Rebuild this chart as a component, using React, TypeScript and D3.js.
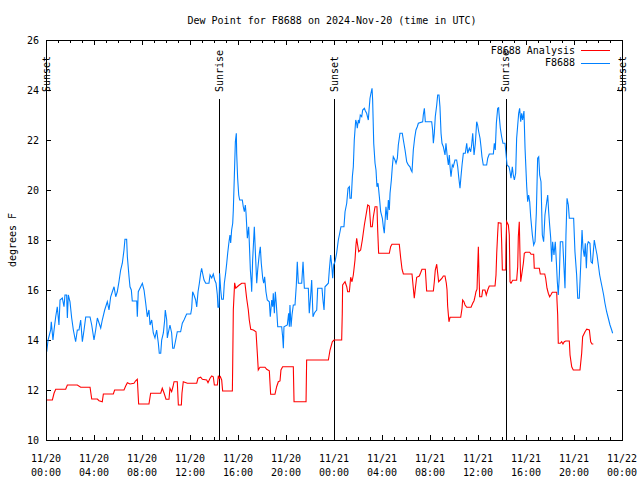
import React from 'react';
import * as d3 from 'd3';

const TITLE = 'Dew Point for F8688 on 2024-Nov-20 (time in UTC)';
const Y_LABEL = 'degrees F';
const BASE_UTC = Date.UTC(2024, 10, 20, 0, 0);
const SPAN_HOURS = 48;
const yTickValues = [10, 12, 14, 16, 18, 20, 22, 24, 26];
const legendNames = ['F8688 Analysis', 'F8688'];
const seriesColors = ['#ff0000', '#0080ff'];

const sunEvents: { h: number; label: string }[] = [
  { h: 0, label: 'Sunset' },
  { h: 14.42, label: 'Sunrise' },
  { h: 24.0, label: 'Sunset' },
  { h: 38.33, label: 'Sunrise' },
  { h: 48, label: 'Sunset' },
];

// [hours since 11/20 00:00 UTC, dew point °F]
const analysisSeries: [number, number][] = [
  [0.06,11.6],[0.53,11.6],[0.67,11.87],[0.81,12.03],[1.64,12.03],[1.78,12.2],[2.61,12.2],[2.89,12.11],[3.67,12.11],[3.81,11.64],[4.28,11.64],[4.42,11.57],[4.69,11.53],[4.78,11.84],[5.61,11.84],[5.72,12.0],[6.5,12.0],[6.64,12.16],[6.78,12.29],[7.0,12.24],[7.33,12.27],[7.47,12.37],[7.61,12.43],[7.72,11.44],[8.58,11.44],[8.72,11.87],[9.56,11.87],[9.69,12.07],[9.83,11.89],[10.0,11.63],[10.25,11.63],[10.33,12.07],[10.47,11.93],[10.58,12.13],[10.67,12.33],[10.94,12.33],[11.03,11.4],[11.28,11.4],[11.33,11.87],[11.44,12.33],[11.78,12.27],[12.56,12.27],[12.67,12.47],[12.89,12.51],[13.03,12.43],[13.39,12.4],[13.5,12.29],[13.67,12.47],[13.81,12.56],[13.94,12.53],[14.03,12.2],[14.28,12.2],[14.36,12.57],[14.44,12.47],[14.53,12.53],[14.64,12.4],[14.72,11.96],[15.53,11.96],[15.56,13.07],[15.61,15.2],[15.72,16.29],[15.81,16.07],[15.94,16.13],[16.11,16.2],[16.31,16.27],[16.58,16.27],[16.72,15.67],[16.86,15.2],[16.94,14.8],[17.06,14.43],[17.28,14.4],[17.5,14.33],[17.61,13.47],[17.69,12.8],[17.83,12.91],[18.25,12.91],[18.39,12.83],[18.61,12.77],[18.72,11.83],[19.08,11.83],[19.22,12.13],[19.36,12.33],[19.5,12.36],[19.58,12.8],[19.72,12.93],[20.61,12.93],[20.67,11.53],[21.67,11.53],[21.72,13.2],[23.53,13.2],[23.67,13.6],[23.86,13.93],[24.0,14.0],[24.64,14.0],[24.69,15.07],[24.72,16.2],[24.92,16.33],[25.06,16.13],[25.14,15.93],[25.28,15.93],[25.39,16.51],[25.5,16.33],[25.61,16.6],[25.75,17.2],[25.83,17.8],[25.89,18.07],[25.97,17.8],[26.06,17.53],[26.22,17.6],[26.36,18.0],[26.53,18.6],[26.67,19.0],[26.81,19.4],[26.94,19.36],[27.06,18.53],[27.19,18.53],[27.28,18.93],[27.42,19.33],[27.58,19.33],[27.64,18.4],[27.72,17.47],[28.61,17.47],[28.72,17.73],[28.83,17.83],[29.44,17.83],[29.56,17.27],[29.67,16.83],[29.78,16.64],[30.5,16.64],[30.61,16.07],[30.69,15.67],[30.78,16.07],[30.89,16.51],[31.11,16.56],[31.22,16.69],[31.33,16.83],[31.61,16.83],[31.72,15.96],[32.28,15.96],[32.36,16.33],[32.44,16.8],[32.56,17.03],[32.64,16.67],[32.72,16.33],[32.86,16.4],[33.0,16.47],[33.11,16.56],[33.25,16.56],[33.36,16.27],[33.42,16.0],[33.47,15.36],[33.58,14.73],[33.67,14.91],[34.56,14.91],[34.67,15.27],[34.72,15.6],[34.83,15.53],[34.92,15.4],[35.06,15.31],[35.42,15.31],[35.56,15.47],[35.67,15.57],[35.75,15.73],[35.83,15.93],[35.92,16.03],[35.97,16.87],[36.03,17.73],[36.08,16.67],[36.14,15.73],[36.31,15.73],[36.39,16.0],[36.58,16.0],[36.69,15.8],[36.81,16.0],[36.94,16.16],[37.42,16.16],[37.5,16.6],[37.56,17.47],[37.64,18.27],[37.69,18.69],[37.92,18.67],[37.97,17.93],[38.03,16.8],[38.31,16.8],[38.33,17.8],[38.39,18.73],[38.53,18.6],[38.61,18.2],[38.67,16.33],[38.75,16.27],[38.89,16.39],[39.22,16.39],[39.31,16.93],[39.36,18.13],[39.44,18.73],[39.5,17.4],[39.56,16.33],[39.64,16.6],[39.78,17.07],[39.86,17.47],[39.97,17.51],[40.31,17.51],[40.42,17.43],[40.64,17.43],[40.69,16.87],[41.11,16.87],[41.19,16.64],[41.56,16.64],[41.64,16.47],[41.75,16.07],[41.86,15.87],[41.97,15.73],[42.08,15.81],[42.19,15.91],[42.56,15.91],[42.58,15.6],[42.64,15.0],[42.69,13.87],[42.86,13.87],[42.97,13.93],[43.08,13.84],[43.19,13.93],[43.31,13.96],[43.61,13.96],[43.67,13.4],[43.81,12.93],[43.94,12.8],[44.5,12.8],[44.64,13.47],[44.72,14.13],[44.92,14.33],[45.06,14.43],[45.28,14.4],[45.39,13.93],[45.5,13.84],[45.61,13.84],
];

const stationSeries: [number, number][] = [
  [0.06,13.53],[0.17,14.0],[0.39,14.4],[0.44,14.73],[0.58,14.0],[0.67,14.4],[0.81,14.93],[0.94,15.33],[1.08,14.6],[1.17,15.6],[1.36,15.68],[1.5,15.33],[1.58,15.8],[1.72,15.8],[1.78,14.88],[1.86,15.8],[2.0,15.53],[2.14,14.88],[2.28,14.4],[2.47,13.93],[2.61,14.4],[2.75,14.4],[2.89,14.8],[3.03,13.93],[3.17,14.4],[3.31,14.92],[3.67,14.92],[3.81,14.6],[4.0,14.0],[4.14,14.4],[4.28,14.88],[4.42,14.68],[4.56,14.48],[4.69,14.8],[4.89,15.2],[5.11,15.53],[5.25,15.2],[5.39,15.73],[5.53,15.93],[5.67,16.13],[5.81,15.73],[5.94,15.93],[6.08,16.33],[6.22,16.8],[6.36,17.07],[6.5,17.6],[6.58,18.03],[6.72,18.03],[6.78,17.33],[6.92,16.53],[7.0,16.13],[7.11,16.0],[7.19,15.56],[7.56,15.56],[7.61,14.93],[7.69,15.93],[7.89,16.13],[8.03,16.27],[8.17,16.0],[8.31,15.47],[8.44,14.93],[8.58,15.2],[8.67,14.6],[8.81,14.8],[8.94,14.28],[9.08,14.08],[9.22,14.4],[9.36,13.88],[9.44,13.47],[9.56,13.47],[9.64,14.0],[9.78,14.28],[9.89,14.8],[9.94,15.2],[10.06,14.8],[10.11,14.08],[10.19,14.28],[10.33,14.6],[10.47,14.28],[10.56,13.67],[10.67,13.67],[10.81,14.0],[10.94,14.33],[11.22,14.33],[11.36,14.67],[11.5,14.8],[11.72,15.04],[12.06,15.04],[12.14,15.27],[12.22,15.93],[12.33,15.8],[12.47,15.6],[12.56,15.32],[12.67,15.93],[12.78,16.27],[12.89,16.67],[12.97,16.87],[13.08,16.6],[13.17,16.4],[13.31,16.27],[13.58,16.27],[13.67,16.6],[13.81,16.48],[13.94,16.64],[14.06,16.4],[14.17,16.27],[14.28,15.8],[14.33,15.31],[14.42,15.31],[14.47,16.67],[14.56,16.0],[14.64,15.63],[14.78,15.63],[14.86,16.27],[14.97,16.67],[15.06,17.07],[15.14,17.47],[15.25,17.93],[15.33,18.2],[15.39,17.88],[15.47,18.4],[15.56,18.67],[15.61,19.2],[15.69,20.47],[15.78,21.93],[15.86,22.27],[15.89,21.47],[15.97,20.47],[16.06,19.8],[16.14,19.6],[16.36,19.6],[16.44,19.33],[16.53,19.13],[16.61,19.4],[16.67,19.07],[16.78,18.07],[16.89,18.53],[16.94,17.93],[17.03,16.8],[17.11,16.27],[17.14,15.93],[17.22,17.2],[17.36,18.53],[17.44,17.6],[17.56,16.27],[17.64,16.8],[17.78,17.47],[17.86,17.73],[17.94,17.07],[18.06,16.47],[18.14,16.27],[18.22,16.53],[18.33,15.93],[18.44,15.6],[18.61,15.53],[18.69,14.93],[18.81,15.6],[18.89,15.33],[18.94,15.87],[19.03,15.07],[19.11,15.93],[19.19,15.47],[19.31,14.53],[19.64,14.53],[19.72,14.13],[19.78,13.67],[19.83,14.53],[20.11,14.6],[20.22,15.07],[20.28,14.53],[20.33,15.4],[20.42,14.53],[20.5,15.0],[20.61,15.4],[20.75,15.4],[20.86,16.2],[20.94,17.13],[21.03,16.27],[21.31,16.27],[21.42,17.13],[21.53,16.07],[21.86,16.07],[21.94,15.07],[22.06,15.8],[22.14,16.4],[22.25,14.93],[22.36,15.07],[22.44,15.13],[22.56,15.2],[22.64,16.07],[23.0,16.07],[23.08,15.6],[23.17,15.2],[23.25,16.13],[23.39,16.2],[23.53,16.27],[23.61,16.8],[23.72,17.4],[23.81,17.0],[23.89,16.47],[23.97,17.0],[24.08,17.13],[24.22,17.47],[24.36,18.0],[24.5,18.33],[24.58,18.53],[24.83,18.53],[24.92,19.13],[25.06,19.47],[25.17,20.07],[25.28,20.13],[25.33,19.67],[25.44,19.67],[25.53,20.53],[25.61,20.93],[25.69,22.0],[25.81,22.8],[25.89,22.67],[25.94,22.47],[26.03,22.8],[26.11,22.67],[26.19,23.0],[26.31,22.93],[26.39,23.2],[26.53,23.27],[26.61,23.17],[26.72,23.07],[26.86,22.8],[26.92,23.2],[27.0,23.67],[27.08,23.87],[27.17,24.07],[27.22,23.6],[27.31,21.87],[27.42,21.07],[27.5,20.8],[27.58,20.13],[27.67,20.27],[27.78,19.73],[27.89,19.13],[28.03,18.87],[28.11,18.53],[28.19,18.27],[28.33,19.33],[28.44,18.8],[28.53,19.6],[28.61,19.2],[28.67,19.87],[28.78,20.4],[28.86,20.93],[28.94,21.33],[29.08,21.2],[29.17,21.07],[29.28,21.27],[29.36,21.8],[29.5,22.27],[29.69,22.27],[29.78,22.0],[29.92,21.6],[30.06,21.13],[30.19,21.0],[30.33,20.93],[30.42,20.8],[30.5,20.73],[30.61,21.6],[30.72,22.07],[30.83,22.4],[30.94,22.53],[31.03,22.67],[31.39,22.73],[31.44,23.0],[31.53,23.27],[31.61,22.73],[32.14,22.73],[32.22,22.4],[32.28,21.87],[32.36,22.27],[32.44,22.93],[32.56,23.4],[32.64,23.8],[32.75,23.8],[32.83,23.33],[32.92,22.27],[33.0,21.87],[33.11,21.73],[33.25,21.4],[33.33,21.87],[33.44,21.33],[33.53,21.0],[33.61,21.4],[33.67,20.93],[33.75,20.53],[33.86,21.0],[33.94,20.93],[34.08,21.2],[34.22,21.2],[34.31,20.93],[34.39,20.53],[34.5,20.07],[34.58,20.53],[34.67,21.0],[34.78,21.47],[34.94,21.47],[35.06,21.87],[35.14,21.47],[35.28,21.67],[35.39,21.53],[35.47,21.8],[35.56,22.27],[35.67,21.4],[35.78,21.87],[35.89,22.73],[35.97,22.6],[36.06,22.33],[36.17,22.07],[36.25,21.73],[36.33,21.33],[36.44,21.0],[36.72,21.0],[36.81,21.27],[36.94,21.44],[37.28,21.44],[37.36,21.87],[37.44,21.6],[37.53,22.67],[37.64,23.27],[37.72,23.29],[37.75,23.07],[37.86,22.47],[37.97,22.13],[38.08,21.87],[38.25,21.87],[38.33,21.47],[38.42,21.0],[38.58,20.93],[38.67,20.73],[38.75,20.47],[38.86,20.93],[38.94,20.6],[39.03,20.4],[39.14,20.67],[39.22,22.07],[39.31,22.6],[39.39,23.07],[39.47,23.27],[39.56,22.73],[39.64,23.07],[39.72,22.8],[39.83,23.16],[39.92,21.67],[40.06,20.13],[40.14,19.53],[40.22,19.8],[40.31,19.53],[40.39,18.93],[40.53,18.2],[40.64,17.8],[40.75,17.93],[40.86,19.07],[40.97,21.27],[41.06,21.33],[41.14,20.6],[41.25,20.33],[41.36,18.2],[41.47,17.93],[41.58,19.0],[41.69,19.4],[41.81,19.8],[41.89,19.13],[41.97,18.6],[42.06,18.07],[42.14,17.13],[42.22,17.93],[42.33,17.4],[42.44,17.93],[42.53,17.13],[42.61,16.33],[42.69,15.8],[42.78,16.6],[42.86,17.93],[43.06,17.93],[43.17,16.87],[43.25,16.07],[43.33,18.2],[43.42,19.67],[43.53,19.4],[43.61,18.87],[43.97,18.87],[44.08,17.53],[44.22,16.6],[44.31,15.67],[44.44,15.67],[44.56,17.0],[44.67,18.4],[44.75,17.67],[44.86,17.33],[44.94,17.87],[45.03,16.87],[45.11,17.8],[45.19,17.93],[45.33,17.87],[45.42,17.13],[45.53,17.07],[45.61,17.53],[45.69,18.0],[45.81,17.67],[45.92,17.4],[46.03,17.0],[46.14,16.6],[46.25,16.33],[46.36,16.07],[46.47,15.8],[46.58,15.47],[46.72,15.13],[46.86,14.87],[47.0,14.6],[47.14,14.4],[47.22,14.27],
];

const FONT = '"DejaVu Sans Mono", "Liberation Mono", monospace';

export default function App() {
  const W = 640, H = 480;
  const L = 46, R = 622, T = 40, B = 440;
  const toDate = (h: number) => new Date(BASE_UTC + h * 3600e3);
  const x = d3.scaleUtc().domain([toDate(0), toDate(SPAN_HOURS)]).range([L, R]);
  const y = d3.scaleLinear().domain([10, 26]).range([B, T]);
  const line = d3.line<[number, number]>().x(d => x(toDate(d[0]))).y(d => y(d[1]));

  const major = x.ticks(d3.utcHour.every(4) as d3.TimeInterval);
  const minor = x.ticks(d3.utcHour.every(1) as d3.TimeInterval);
  const fmtDay = d3.utcFormat('%m/%d');
  const fmtTime = d3.utcFormat('%H:%M');

  const series = [analysisSeries, stationSeries];
  const px = (v: number) => Math.round(v) + 0.5;

  return (
    <svg width={W} height={H} style={{ position: 'absolute', left: 0, top: 0, background: '#fff' }}
      fontFamily={FONT} fontSize={10}>
      <rect x={0} y={0} width={W} height={H} fill="#fff" />
      <text x={332} y={23.5} textAnchor="middle">{TITLE}</text>
      <text transform={`translate(12,240) rotate(-90)`} textAnchor="middle" dy="0.35em">{Y_LABEL}</text>

      <g shapeRendering="crispEdges" stroke="#000" strokeWidth={1}>
        {minor.map((d, i) => {
          const isMajor = d.getUTCHours() % 4 === 0;
          const len = isMajor ? 5 : 3;
          const xx = px(x(d));
          return (
            <g key={'xt' + i}>
              <line x1={xx} x2={xx} y1={B} y2={B - len} />
              <line x1={xx} x2={xx} y1={T} y2={T + len} />
            </g>
          );
        })}
        {yTickValues.map(v => (
          <g key={'yt' + v}>
            <line x1={L} x2={L + 5} y1={px(y(v))} y2={px(y(v))} />
            <line x1={R} x2={R - 5} y1={px(y(v))} y2={px(y(v))} />
          </g>
        ))}
      </g>

      {yTickValues.map(v => (
        <text key={'yl' + v} x={39} y={y(v)} dy="0.35em" textAnchor="end">{v}</text>
      ))}
      {major.map((d, i) => (
        <g key={'xl' + i}>
          <text x={x(d)} y={461.5} textAnchor="middle">{fmtDay(d)}</text>
          <text x={x(d)} y={475.5} textAnchor="middle">{fmtTime(d)}</text>
        </g>
      ))}

      {sunEvents.map((e, i) => {
        const xx = px(x(toDate(e.h)));
        return (
          <g key={'sun' + i}>
            <line x1={xx} x2={xx} y1={99} y2={B} stroke="#000" strokeWidth={1} shapeRendering="crispEdges" />
            <text transform={`translate(${x(toDate(e.h))},92) rotate(-90)`} dy="0.35em" textAnchor="start">{e.label}</text>
          </g>
        );
      })}

      {series.map((s, i) => (
        <path key={'s' + i} d={line(s) || ''} fill="none" stroke={seriesColors[i]} strokeWidth={1.1} />
      ))}

      {legendNames.map((name, i) => {
        const ly = 50 + i * 12.7;
        return (
          <g key={'lg' + i}>
            <text x={575} y={ly} dy="0.35em" textAnchor="end">{name}</text>
            <line x1={581} x2={610} y1={px(ly)} y2={px(ly)} stroke={seriesColors[i]} strokeWidth={1} shapeRendering="crispEdges" />
          </g>
        );
      })}

      <rect x={L + 0.5} y={T + 0.5} width={R - L} height={B - T} fill="none" stroke="#000" strokeWidth={1} shapeRendering="crispEdges" />
    </svg>
  );
}
